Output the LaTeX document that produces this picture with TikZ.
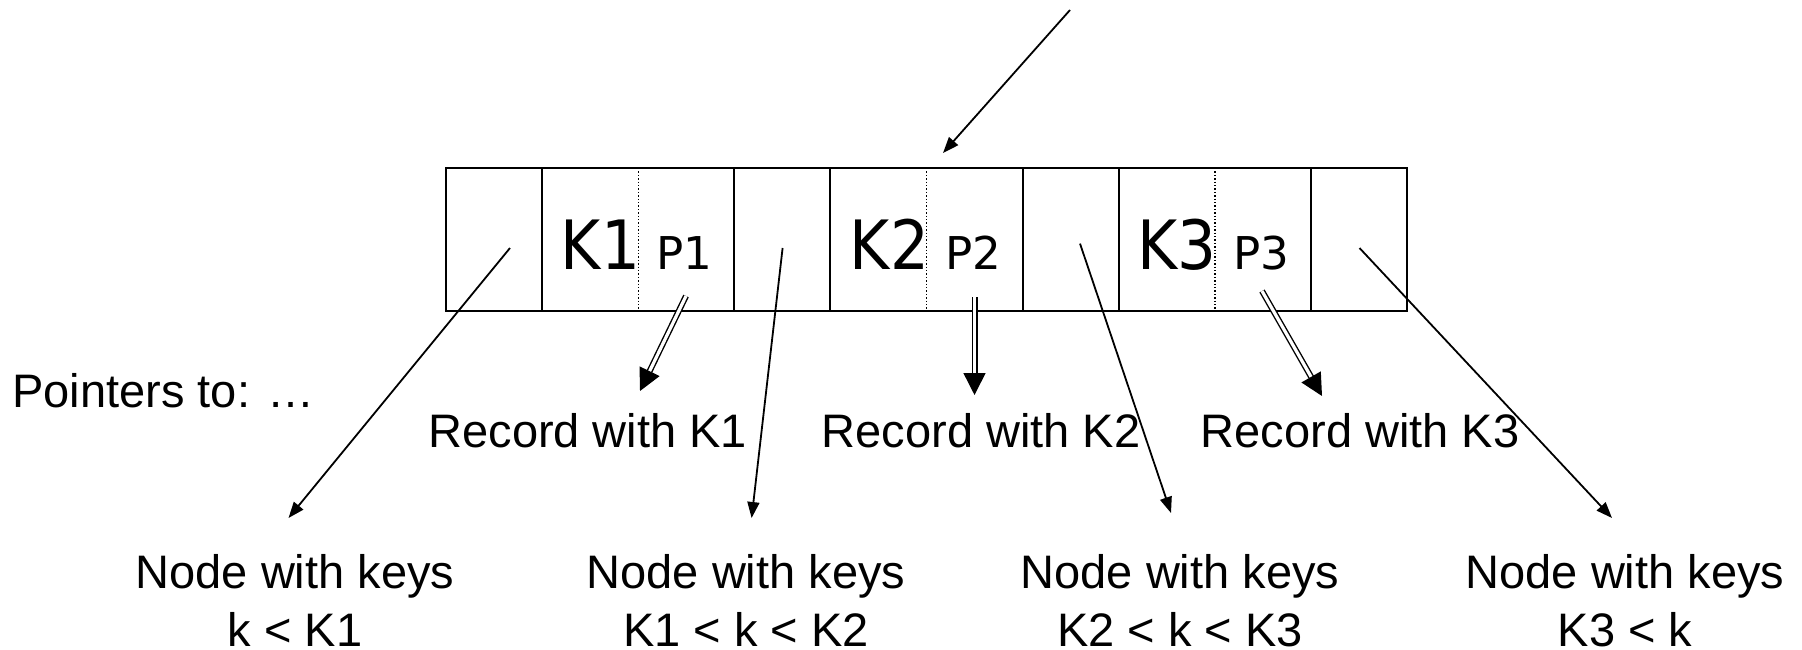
\documentclass[tikz,border=0pt]{standalone}
\usepackage{fontspec}
\setmainfont{Liberation Sans}
\newfontfamily\kfont[FakeStretch=0.9]{DejaVu Sans}
\newfontfamily\pfont{DejaVu Sans}
\usetikzlibrary{arrows.meta}
\tikzset{
  cell/.style={rectangle, inner sep=0pt, outer sep=0pt, minimum width=48.05pt, minimum height=71.5pt},
  boxline/.style={line width=1pt, black},
  divline/.style={line width=0.7pt, densely dotted, black},
  ktext/.style={inner sep=0pt, anchor=base, font=\kfont\fontsize{34}{40}\selectfont},
  ptext/.style={inner sep=0pt, anchor=base, font=\pfont\fontsize{22.6}{27}\selectfont},
  lbl/.style={inner sep=0pt, font=\fontsize{23.5}{29}\selectfont},
  nodelbl/.style={lbl, align=center, anchor=north},
  thinarrow/.style={line width=0.9pt, -{Triangle[length=8pt,width=6pt]}},
  dblarrow/.style={line width=0.7pt, double, double distance=1.6pt, -{Triangle[length=11pt,width=11pt]}}
}
\begin{document}
\begin{tikzpicture}[x=0.5pt, y=-0.5pt]
\useasboundingbox (0,0) rectangle (1802,649);
% cells
\foreach \i in {0,...,9} {
  \node[cell] (c\i) at ({446+96.1*(\i+0.5)}, 239.5) {};
}
\draw[boxline] (c0.north west) rectangle (c9.south east);
\foreach \i in {0,2,3,5,6,8} {
  \draw[boxline] (c\i.north east) -- (c\i.south east);
}
\foreach \i in {1,4,7} {
  \draw[divline] (c\i.north east) -- (c\i.south east);
}
% keys and record pointers
\node[ktext] (k1) at (600.5,269) {K1};
\node[ptext] (p1) at (684,269) {P1};
\node[ktext] (k2) at (889.5,269) {K2};
\node[ptext] (p2) at (973,269) {P2};
\node[ktext] (k3) at (1177,269) {K3};
\node[ptext] (p3) at (1261,269) {P3};
% labels
\node[lbl, anchor=base west] (ptr) at (12,407) {Pointers to: …};
\node[lbl, anchor=base] (r1) at (587.8,447) {Record with K1};
\node[lbl, anchor=base] (r2) at (981,447) {Record with K2};
\node[lbl, anchor=base] (r3) at (1360,447) {Record with K3};
\node[nodelbl] (n1) at (295,554) {Node with keys\\k < K1};
\node[nodelbl] (n2) at (746,554) {Node with keys\\K1 < k < K2};
\node[nodelbl] (n3) at (1180,554) {Node with keys\\K2 < k < K3};
\node[nodelbl] (n4) at (1625,554) {Node with keys\\K3 < k};
% arrow end points
\coordinate (top) at (1070,10);
\coordinate (topend) at (943,153);
\coordinate (s0) at (510,248);
\coordinate (t0) at (288.5,518);
\coordinate (s3) at (782.6,248);
\coordinate (t3) at (751.6,518);
\coordinate (s6) at (1080,243.6);
\coordinate (t6) at (1171,513);
\coordinate (s9) at (1359.5,248);
\coordinate (t9) at (1612,518);
\coordinate (d1s) at (686,296);
\coordinate (d1e) at (640,391);
\coordinate (d2s) at (974.5,297);
\coordinate (d2e) at (974.5,395);
\coordinate (d3s) at (1262,291);
\coordinate (d3e) at (1322,396);
% arrows
\draw[thinarrow] (top) -- (topend);
\draw[thinarrow] (s0) -- (t0);
\draw[thinarrow] (s3) -- (t3);
\draw[thinarrow] (s6) -- (t6);
\draw[thinarrow] (s9) -- (t9);
\draw[dblarrow] (d1s) -- (d1e);
\draw[dblarrow] (d2s) -- (d2e);
\draw[dblarrow] (d3s) -- (d3e);
\end{tikzpicture}
\end{document}
